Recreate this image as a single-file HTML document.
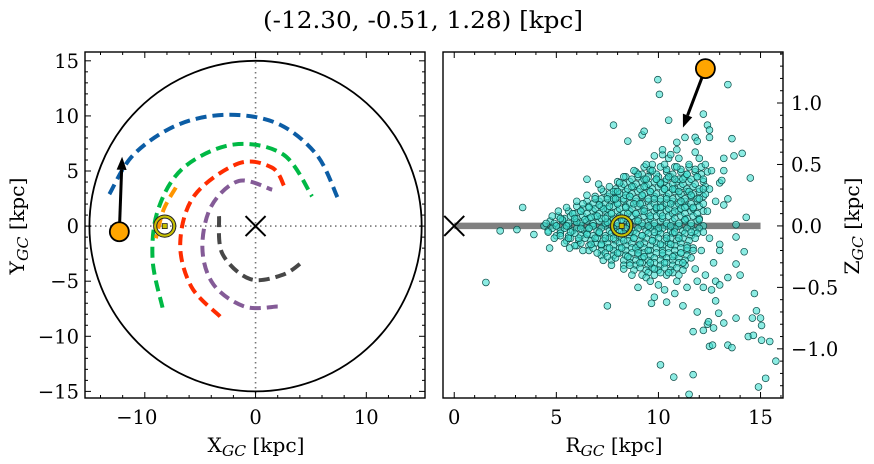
<!DOCTYPE html>
<html><head><meta charset="utf-8"><style>
html,body{margin:0;padding:0;background:#fff;}
svg{display:block;font-family:"DejaVu Serif","Liberation Serif",serif;}
</style></head><body>
<svg id="chart" width="874" height="464" viewBox="0 0 874 464" xmlns="http://www.w3.org/2000/svg">
<text x="423" y="28" font-size="23" text-anchor="middle" textLength="320" lengthAdjust="spacingAndGlyphs">(-12.30, -0.51, 1.28) [kpc]</text>
<g id="left"></g>
<g id="right"></g>
</svg>
<script>
// ---- data ----
const galaxyRadius = 15;
const starXY = [-12.30, -0.51];
const starVelXY = [0.25, 6.8];
const sunXY = [-8.2, 0.0];
const starRZ = [12.3, 1.28];
const starVelRZ = [-1.1, -0.48];
const sunRZ = [8.2, 0.0];
const orbitNames = ['blue','green','orange','red','purple','gray'];
const orbitColors = ['#0C5DA5','#00B945','#FF9500','#FF2C00','#845B97','#474747'];
const orbitBlue = [[-13.2,2.9],[-11,6.5],[-7,9.2],[-2.5,10.1],[2,9.3],[5.5,6.5],[7.4,2.6]];
const orbitGreen = [[-8.4,-7.4],[-9.3,-3],[-8.8,1.5],[-6.5,5.3],[-2,7.4],[2.5,6.5],[5.1,2.7]];
const orbitOrange = [[-7.2,3.5],[-8.3,1.5],[-9,-1.1]];
const orbitRed = [[-3.2,-8.2],[-5.8,-5.5],[-6.8,-1.5],[-5.5,2.8],[-1.5,5.7],[1.5,5.3],[2.6,3.6]];
const orbitPurple = [[2,-7.3],[-1,-7.3],[-3.8,-5.3],[-4.8,-2],[-4,1.8],[-1.5,4.1],[1.5,3.3]];
const orbitGray = [[-3.3,0.9],[-3,-2.5],[-0.5,-4.8],[2.5,-4.4],[4.4,-3.1]];
const xTicks = [-10,0,10], yTicks = [-15,-10,-5,0,5,10,15];
const rTicks = [0,5,10,15], zTicks = [-1.0,-0.5,0.0,0.5,1.0];
const zTickLabels = ['\u22121.0','\u22120.5','0.0','0.5','1.0'];
const coreR = [4.5,4.6,4.8,4.9,5.0,5.1,5.2,5.3,5.4,5.5,5.5,5.7,5.8,5.9,6.0,6.0,6.1,6.2,6.3,6.4,6.5,6.5,6.6,6.7,6.8,6.9,7.0,7.0,7.1,7.2,7.3,7.3,7.4,7.5,7.5,7.6,7.7,7.7,7.8,7.9,8.0,8.0,8.1,8.2,8.3,8.3,8.4,8.5,8.5,8.6,8.7,8.7,8.8,8.9,9.0,9.0,9.1,9.2,9.2,9.3,9.4,9.4,9.5,9.5,9.6,9.7,9.7,9.8,9.9,10.0,10.0,10.1,10.2,10.2,10.3,10.4,10.4,10.5,10.5,10.6,10.7,10.7,10.8,10.9,10.9,11.0,11.1,11.2,11.2,11.3,11.4,11.5,11.5,11.6,11.7,11.8,11.9,12.0,12.1,12.2,12.3,12.4,12.5,12.6,12.8,13.0,12.7,
5.2,5.6,5.9,6.2,6.3,6.6,6.7,6.9,7.1,7.2,7.4,7.6,7.8,7.9,8.1,8.2,8.4,8.6,8.6,8.8,8.9,9.1,9.1,9.3,9.3,9.6,9.6,9.8,9.8,9.9,10.1,10.1,10.3,10.3,10.6,10.6,10.8,10.8,11.0,11.1,11.3,11.4,11.6,11.7,12.0,12.2,8.0,8.3,7.5,9.0,9.7,10.5,11.0,12.0,11.8,10.9,10.2,9.4,8.8,9.0,9.6,10.3,10.8,11.4,11.9,12.3,12.5,13.2,13.0,12.8,11.2,10.4,9.8,11.9,12.2,12.4];
const coreZ = [0.02,-0.05,0.08,-0.1,0.0,0.12,-0.08,0.05,-0.14,0.15,0.0,-0.05,0.1,-0.16,0.2,0.03,-0.1,0.12,-0.2,0.05,0.25,-0.07,0.15,-0.15,0.0,0.22,-0.22,0.08,-0.05,0.3,0.14,-0.28,-0.1,0.03,0.22,-0.18,0.1,-0.32,0.28,-0.05,0.18,-0.22,0.35,0.05,-0.12,-0.35,0.25,-0.25,0.1,-0.05,0.32,-0.4,0.18,-0.18,0.04,0.42,-0.3,0.25,-0.08,0.12,-0.42,0.38,-0.2,0.0,0.28,-0.12,0.45,-0.35,0.15,-0.02,-0.48,0.35,-0.22,0.08,0.5,-0.1,0.22,-0.38,0.4,0.0,-0.25,0.3,0.12,-0.45,0.48,-0.1,0.2,-0.3,0.38,0.05,-0.18,0.5,0.28,-0.05,0.15,-0.35,0.4,0.05,-0.2,0.3,0.5,0.12,-0.1,0.45,0.2,0.35,-0.3,
0.06,-0.1,0.06,-0.02,0.18,-0.02,0.07,-0.1,0.17,-0.15,0.06,0.16,-0.1,0.22,-0.05,-0.18,0.15,0.24,-0.32,-0.1,0.1,0.18,-0.15,0.32,-0.25,0.08,-0.3,0.22,-0.05,0.38,-0.15,0.15,-0.3,0.3,0.18,-0.15,-0.05,0.38,0.28,-0.22,0.15,0.42,0.25,-0.2,0.22,-0.05,0.28,0.4,-0.25,-0.22,0.5,0.55,0.55,0.55,0.6,0.62,0.58,0.5,0.45,-0.5,-0.45,-0.52,-0.55,-0.5,-0.45,-0.4,0.3,0.45,-0.15,-0.45,-0.65,-0.62,-0.58,-0.7,-0.85,-0.8];
// dense core rows: z level and R values of stars at that level
const denseZ = [0.48,0.44,0.40,0.36,0.32,0.28,0.24,0.20,0.16,0.12,0.08,0.04,0.00,-0.04,-0.08,-0.12,-0.16,-0.20,-0.24,-0.28,-0.32,-0.36,-0.40];
const denseR = [
[9.3,10.1,10.8,11.5,12.1],
[8.9,9.6,10.4,11.1,11.8,12.4],
[8.4,9.0,9.5,10.0,10.6,11.3,11.9],
[8.0,8.6,9.2,9.8,10.3,10.9,11.5,12.2],
[7.6,8.2,8.8,9.4,10.0,10.5,11.1,11.7,12.3],
[7.3,7.9,8.4,9.0,9.6,10.2,10.8,11.4,12.0],
[6.9,7.5,8.0,8.6,9.2,9.8,10.4,11.0,11.6,12.2],
[6.5,7.1,7.7,8.3,8.9,9.5,10.1,10.7,11.3,11.9],
[6.0,6.6,7.2,7.8,8.4,9.0,9.6,10.2,10.8,11.4,12.0],
[5.6,6.2,6.8,7.4,8.0,8.6,9.2,9.8,10.4,11.0,11.6,12.2],
[5.1,5.7,6.3,6.9,7.5,8.1,8.7,9.3,9.9,10.5,11.1,11.7],
[4.7,5.3,5.9,6.5,7.1,7.7,8.3,8.9,9.5,10.1,10.7,11.3,11.9],
[4.4,5.0,5.6,6.2,6.8,7.4,8.0,8.6,9.2,9.8,10.4,11.0,11.6,12.2],
[4.6,5.2,5.8,6.4,7.0,7.6,8.2,8.8,9.4,10.0,10.6,11.2,11.8],
[5.0,5.6,6.2,6.8,7.4,8.0,8.6,9.2,9.8,10.4,11.0,11.6],
[5.5,6.1,6.7,7.3,7.9,8.5,9.1,9.7,10.3,10.9,11.5],
[6.0,6.6,7.2,7.8,8.4,9.0,9.6,10.2,10.8,11.4],
[6.6,7.2,7.8,8.4,9.0,9.6,10.2,10.8,11.4],
[7.2,7.8,8.4,9.0,9.6,10.2,10.8,11.4],
[7.7,8.3,8.9,9.5,10.1,10.7,11.3],
[8.3,8.9,9.5,10.1,10.7,11.3],
[8.8,9.4,10.0,10.6,11.2],
[9.2,9.8,10.4,11.0]];
const denseZ2 = [0.46,0.42,0.38,0.34,0.30,0.26,0.22,0.18,0.14,0.10,0.06,0.02,-0.02,-0.06,-0.10,-0.14,-0.18,-0.22,-0.26,-0.30,-0.34,-0.38];
const denseR2 = [
[9.6,10.4,11.1,11.8],
[9.2,9.9,10.7,11.4,12.1],
[8.7,9.3,9.9,10.4,11.0,11.6,12.2],
[8.3,8.9,9.5,10.1,10.7,11.2,11.8],
[7.9,8.5,9.1,9.7,10.3,10.8,11.4,12.0],
[7.6,8.1,8.7,9.3,9.9,10.5,11.1,11.7,12.3],
[7.2,7.8,8.3,8.9,9.5,10.1,10.7,11.3,11.9],
[6.8,7.4,8.0,8.6,9.2,9.8,10.4,11.0,11.6,12.2],
[6.3,6.9,7.5,8.1,8.7,9.3,9.9,10.5,11.1,11.7],
[5.9,6.5,7.1,7.7,8.3,8.9,9.5,10.1,10.7,11.3,11.9],
[5.4,6.0,6.6,7.2,7.8,8.4,9.0,9.6,10.2,10.8,11.4,12.0],
[4.9,5.6,6.2,6.8,7.4,8.0,8.6,9.2,9.8,10.4,11.0,11.6],
[4.8,5.4,6.0,6.6,7.2,7.8,8.4,9.0,9.6,10.2,10.8,11.4,12.0],
[5.2,5.9,6.5,7.1,7.7,8.3,8.9,9.5,10.1,10.7,11.3,11.9],
[5.7,6.4,7.0,7.6,8.2,8.8,9.4,10.0,10.6,11.2,11.8],
[6.2,6.9,7.5,8.1,8.7,9.3,9.9,10.5,11.1],
[6.8,7.5,8.1,8.7,9.3,9.9,10.5,11.1,11.7],
[7.4,8.1,8.7,9.3,9.9,10.5,11.1],
[7.9,8.6,9.2,9.8,10.4,11.0,11.6],
[8.6,9.2,9.8,10.4,11.0],
[9.1,9.7,10.3,10.9],
[9.5,10.1,10.7]];
const outR = [9.97,10.05,13.4,7.8,12.2,10.5,12.4,13.6,14.1,14.5,14.3,13.8,13.8,14.2,13.8,14.0,14.7,14.8,15.0,14.6,15.05,14.4,14.65,15.05,15.45,15.75,15.25,14.9,13.8,13.4,13.6,12.5,12.65,13.2,12.7,12.45,12.95,12.8,11.7,11.7,11.5,10.75,10.1,9.66,7.5,1.55,2.25,3.07,3.35,3.9,4.67,5.65,7.07,6.5,8.5,9.2,9.3,10.9,11.3,11.8,11.9,12.5,12.5,10.2,9.8,10.6,13.2,13.7,13.1,13.2,13.4,13.0,12.2,12.6,13.0,13.4];
const outZ = [1.19,1.07,1.15,0.82,0.91,0.86,0.82,0.71,0.59,0.39,0.07,0.01,-0.09,-0.21,-0.31,-0.4,-0.55,-0.69,-0.75,-0.75,-0.81,-0.9,-0.89,-0.93,-0.94,-1.1,-1.24,-1.31,-0.75,-0.97,-0.99,-0.98,-0.97,-0.79,-0.83,-0.78,-0.71,-0.61,-0.86,-1.21,-1.37,-1.23,-1.13,-0.63,-0.65,-0.46,-0.04,-0.03,0.15,-0.07,-0.18,-0.18,0.34,0.38,0.69,0.74,0.77,0.68,0.72,0.72,0.69,0.78,0.72,0.62,0.57,0.58,0.55,0.57,0.37,0.17,0.22,-0.2,-0.5,-0.52,-0.48,-0.42];

// ---- axes ----
const NS='http://www.w3.org/2000/svg';
const L={x0:85,x1:425,y0:52,y1:398,xmin:-15.4,xmax:15.3,ymin:-15.6,ymax:15.8};
const R={x0:443,x1:783,y0:52,y1:398,xmin:-0.55,xmax:16.1,ymin:-1.40,ymax:1.415};
function sx(a,v){return a.x0+(v-a.xmin)/(a.xmax-a.xmin)*(a.x1-a.x0);}
function sy(a,v){return a.y1-(v-a.ymin)/(a.ymax-a.ymin)*(a.y1-a.y0);}
function mk(tag,attrs,parent){const e=document.createElementNS(NS,tag);for(const k in attrs)e.setAttribute(k,attrs[k]);parent.appendChild(e);return e;}
const gl=document.getElementById('left'), gr=document.getElementById('right');

function smoothPath(a,pts){
  const p=pts.map(q=>[sx(a,q[0]),sy(a,q[1])]);
  let d='M'+p[0][0]+','+p[0][1];
  for(let i=0;i<p.length-1;i++){
    const p0=p[i-1]||p[i],p1=p[i],p2=p[i+1],p3=p[i+2]||p2;
    const c1=[p1[0]+(p2[0]-p0[0])/6,p1[1]+(p2[1]-p0[1])/6];
    const c2=[p2[0]-(p3[0]-p1[0])/6,p2[1]-(p3[1]-p1[1])/6];
    d+=' C'+c1+' '+c2+' '+p2;
  }
  return d;
}

// LEFT PANEL
let e;
e=mk('line',{x1:sx(L,0),x2:sx(L,0),y1:L.y0,y2:L.y1,stroke:'#777','stroke-width':1.6,'stroke-dasharray':'1.5,3.5'},gl);

e=mk('line',{x1:L.x0,x2:L.x1,y1:sy(L,0),y2:sy(L,0),stroke:'#777','stroke-width':1.6,'stroke-dasharray':'1.5,3.5'},gl);

e=mk('ellipse',{cx:sx(L,0),cy:sy(L,0),rx:sx(L,galaxyRadius)-sx(L,0),ry:sy(L,0)-sy(L,galaxyRadius),fill:'none',stroke:'#000','stroke-width':1.8},gl);

const orbits=[orbitBlue,orbitGreen,orbitOrange,orbitRed,orbitPurple,orbitGray];
orbits.forEach((o,i)=>{
  const p=mk('path',{d:smoothPath(L,o),fill:'none',stroke:orbitColors[i],'stroke-width':4,'stroke-dasharray':'11,6'},gl);
  
  
});
function cross(g,a,x,y,name){
  const cx=sx(a,x),cy=sy(a,y),s=10;
  const gg=mk('g',{stroke:'#000','stroke-width':2},g);
  
  mk('line',{x1:cx-s,y1:cy-s,x2:cx+s,y2:cy+s},gg);mk('line',{x1:cx-s,y1:cy+s,x2:cx+s,y2:cy-s},gg);
}
function sun(g,a,x,y,name){
  const cx=sx(a,x),cy=sy(a,y);
  const gg=mk('g',{},g);
  
  mk('circle',{cx,cy,r:11,fill:'none',stroke:'#222','stroke-width':1.2},gg);
  mk('circle',{cx,cy,r:9.5,fill:'none',stroke:'#c8c000','stroke-width':2.2},gg);
  mk('circle',{cx,cy,r:8,fill:'none',stroke:'#222','stroke-width':1},gg);
  mk('rect',{x:cx-2.5,y:cy-2.5,width:5,height:5,fill:'#c8c000',stroke:'#222','stroke-width':0.8},gg);
}
function arrowStar(g,a,pos,vel,name){
  const x1=sx(a,pos[0]),y1=sy(a,pos[1]),x2=sx(a,pos[0]+vel[0]),y2=sy(a,pos[1]+vel[1]);
  const ang=Math.atan2(y2-y1,x2-x1),hl=13,hw=5;
  const bx=x2-hl*Math.cos(ang),by=y2-hl*Math.sin(ang);
  const ar=mk('g',{},g);
  
  mk('line',{x1,y1,x2:bx,y2:by,stroke:'#000','stroke-width':3},ar);
  mk('polygon',{points:[x2,y2,bx-hw*Math.sin(ang),by+hw*Math.cos(ang),bx+hw*Math.sin(ang),by-hw*Math.cos(ang)].join(','),fill:'#000'},ar);
  const c=mk('circle',{cx:x1,cy:y1,r:9.5,fill:'#FFA500',stroke:'#000','stroke-width':1.8},g);
  
}
cross(gl,L,0,0,'galactic-center-marker');
sun(gl,L,sunXY[0],sunXY[1],'sun-marker');
arrowStar(gl,L,starXY,starVelXY,'star-marker');

// RIGHT PANEL
e=mk('line',{x1:sx(R,0),x2:sx(R,15),y1:sy(R,0),y2:sy(R,0),stroke:'#808080','stroke-width':6.5},gr);

const sg=mk('g',{fill:'rgba(64,224,208,0.6)',stroke:'#0b4a46','stroke-width':0.7},gr);

function dot(r,z){
  const c=mk('circle',{cx:sx(R,r),cy:sy(R,z),r:3.4},sg);
  
  
}
for(let i=0;i<denseZ.length;i++)for(const r of denseR[i])dot(r,denseZ[i]);
for(let i=0;i<denseZ2.length;i++)for(const r of denseR2[i])dot(r,denseZ2[i]);
for(let i=0;i<coreR.length;i++)dot(coreR[i],coreZ[i]);
for(let i=0;i<outR.length;i++)dot(outR[i],outZ[i]);
cross(gr,R,0,0,'galactic-center-marker-rz');
sun(gr,R,sunRZ[0],sunRZ[1],'sun-marker-rz');
arrowStar(gr,R,starRZ,starVelRZ,'star-marker-rz');

// frames & ticks
function frame(g,a,name){
  const r=mk('rect',{x:a.x0,y:a.y0,width:a.x1-a.x0,height:a.y1-a.y0,fill:'none',stroke:'#000','stroke-width':1.4},g);
  
}
frame(gl,L,'xy-frame');frame(gr,R,'rz-frame');
const tg=mk('g',{stroke:'#000','stroke-width':1},document.getElementById('chart'));

function tx(a,v,len,top,bottom){const x=sx(a,v);if(x<a.x0||x>a.x1)return;
  if(bottom)mk('line',{x1:x,x2:x,y1:a.y1,y2:a.y1-len},tg);if(top)mk('line',{x1:x,x2:x,y1:a.y0,y2:a.y0+len},tg);}
function ty(a,v,len,left,right){const y=sy(a,v);if(y<a.y0||y>a.y1)return;
  if(left)mk('line',{x1:a.x0,x2:a.x0+len,y1:y,y2:y},tg);if(right)mk('line',{x1:a.x1,x2:a.x1-len,y1:y,y2:y},tg);}
for(let v=-14;v<=14;v+=2)tx(L,v,v%10===0?6:3,true,true);
for(let v=-15;v<=15;v+=1)ty(L,v,v%5===0?6:3,true,true);
for(let v=0;v<=16;v+=1)tx(R,v,v%5===0?6:3,true,true);
for(let i=-14;i<=14;i++)ty(R,i/10,i%5===0?6:3,false,true);

// labels (widths matched to DejaVu Serif metrics)
const lg=document.getElementById('chart');
function tw(s,size){let w=0;for(const c of s)w+=(c==='\u2212'?0.838:c==='.'?0.318:0.636);return w*size;}
function txt(x,y,s,anchor,name){const t=mk('text',{x,y,'font-size':19.5,'text-anchor':anchor,textLength:tw(s,19.5),lengthAdjust:'spacingAndGlyphs'},lg);t.textContent=s;
  return t;}
xTicks.forEach(v=>txt(sx(L,v)-(v<0?8:0),L.y1+26,v<0?'\u2212'+(-v):String(v),'middle','x-tick-label'));
yTicks.forEach(v=>txt(L.x0-6,sy(L,v)+7,v<0?'\u2212'+(-v):String(v),'end','y-tick-label'));
rTicks.forEach(v=>txt(sx(R,v),R.y1+26,String(v),'middle','r-tick-label'));
zTicks.forEach((v,i)=>txt(R.x1+8,sy(R,v)+7,zTickLabels[i],'start','z-tick-label'));
function axTitle(letter,attrs,name){
  const t=mk('text',Object.assign({'font-size':19.5,'text-anchor':'middle',textLength:97,lengthAdjust:'spacingAndGlyphs'},attrs),lg);
  
  t.innerHTML=letter+'<tspan font-size="15" font-style="italic" dy="4">GC</tspan><tspan dy="-4"> [kpc]</tspan>';
}
axTitle('X',{x:256,y:452},'x-axis-title');
axTitle('R',{x:614,y:452},'r-axis-title');
axTitle('Y',{x:0,y:0,transform:'translate(24,226) rotate(-90)'},'y-axis-title');
axTitle('Z',{x:0,y:0,transform:'translate(859,226) rotate(-90)'},'z-axis-title');
</script>
</body></html>
